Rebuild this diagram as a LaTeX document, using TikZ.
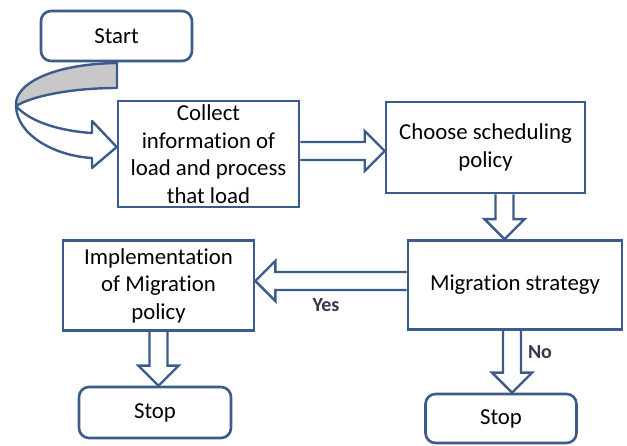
\documentclass[tikz,border=0pt]{standalone}
\usepackage{fontspec}
\setmainfont{Carlito}[Ligatures=NoCommon]
\usetikzlibrary{calc,backgrounds}
\definecolor{boxblue}{RGB}{59,92,138}
\definecolor{lblpurple}{RGB}{63,49,81}
\definecolor{backgray}{RGB}{200,200,200}
\tikzset{
  box/.style={draw=boxblue, line width=2.6pt, fill=white, align=center, inner sep=2pt,
    font=\fontsize{22.8}{27.5}\selectfont},
  term/.style={box, rounded corners=10pt},
  lbl/.style={font=\fontsize{20}{24}\selectfont\bfseries, text=lblpurple},
  fat/.style={draw=boxblue, line width=2.4pt, fill=white, line join=miter,
    to path={($(\tikztostart)!9pt!90:(\tikztotarget)$)
      -- ($(\tikztotarget)!20pt!(\tikztostart)!9pt!-90:(\tikztostart)$)
      -- ($(\tikztotarget)!20pt!(\tikztostart)!20pt!-90:(\tikztostart)$)
      -- (\tikztotarget)
      -- ($(\tikztotarget)!20pt!(\tikztostart)!20pt!90:(\tikztostart)$)
      -- ($(\tikztotarget)!20pt!(\tikztostart)!9pt!90:(\tikztostart)$)
      -- ($(\tikztostart)!9pt!-90:(\tikztotarget)$)}},
  curl/.style={draw=boxblue, line width=2.4pt, line join=round}
}
\begin{document}
\begin{tikzpicture}[x=1pt, y=-1pt]
\useasboundingbox (0,0) rectangle (627,446);
\node[term, minimum width=151, minimum height=50] (start) at (116.5,36) {Start};
\node[box, minimum width=181, minimum height=106] (collect) at (208.5,154) {Collect\\information of\\load and process\\that load};
\node[box, minimum width=199, minimum height=91] (choose) at (485.5,147.5) {Choose scheduling\\policy};
\node[box, minimum width=214, minimum height=89] (migr) at (515,285) {Migration strategy};
\node[box, minimum width=191, minimum height=90] (impl) at (158.5,285.5) {Implementation\\of Migration\\policy};
\node[term, minimum width=152, minimum height=51] (stopl) at (155,412.5) {Stop};
\node[term, minimum width=151, minimum height=49] (stopr) at (501,418.5) {Stop};
\node[lbl] (yes) at (326,305) {Yes};
\node[lbl] (no) at (540,352) {No};
\begin{scope}[on background layer]
% curved arrow from start into collect
\coordinate (tip) at ($(collect.west)+(0,-7)$);
\draw[curl, fill=backgray] (117,63) .. controls (52,64) and (14,84) .. (16,106)
  .. controls (32,96) and (72,88) .. (117,88) -- cycle;
\draw[curl, fill=white] (16,106) .. controls (17,136) and (56,156) .. (92,158)
  -- (92,168) -- (tip) -- (92,121) -- (92,133)
  .. controls (60,131) and (30,122) .. (16,106) -- cycle;
% block arrows
\draw[fat] ($(collect.east)+(0,-3)$) coordinate (c0) to (c0 -| choose.west);
\draw[fat] ($(choose.south)+(19,0)$) coordinate (c1) to (c1 |- migr.north);
\draw[fat] ($(migr.west)+(0,-4)$) coordinate (c2) to (c2 -| impl.east);
\draw[fat] (impl.south) to (impl.south |- stopl.north);
\draw[fat] ($(migr.south)+(-3,0)$) coordinate (c3) to (c3 |- stopr.north);
\end{scope}
\end{tikzpicture}
\end{document}
